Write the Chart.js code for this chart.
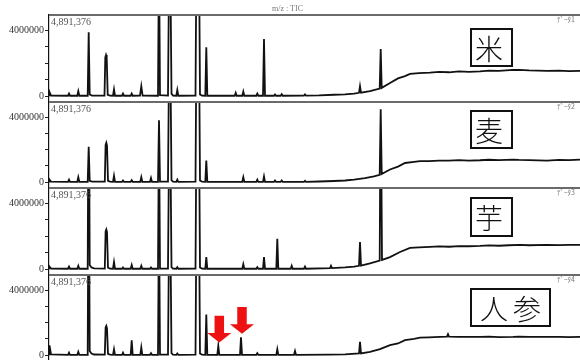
<!DOCTYPE html>
<html><head><meta charset="utf-8">
<script src="https://cdn.jsdelivr.net/npm/chart.js@4.4.0/dist/chart.umd.min.js"></script>
<style>
html,body{margin:0;padding:0;background:#fff;}
#wrap{position:relative;width:580px;height:360px;overflow:hidden;background:#fff;}
#wrap canvas{position:absolute;left:0;}
.txt{position:absolute;white-space:nowrap;line-height:1;}
.fs{font-family:"Liberation Serif","DejaVu Serif",serif;font-size:10px;color:#555;}
.dn{font-family:"Noto Sans CJK JP",sans-serif;font-size:7px;color:#777;}
.box{position:absolute;border:2px solid #111;background:#fff;font-family:"Noto Sans CJK JP",sans-serif;font-weight:300;font-size:28px;color:#111;display:flex;align-items:center;justify-content:center;box-sizing:border-box;letter-spacing:5px;}
</style></head><body><div id="wrap"></div>
<script>
// ---- data (time in minutes, intensity in millions of counts) ----
const panelNames = ['米', '麦', '芋', '人参'];
const dataNames = ['ﾃﾞｰﾀ1', 'ﾃﾞｰﾀ2', 'ﾃﾞｰﾀ3', 'ﾃﾞｰﾀ4'];
const topTitle = 'm/z : TIC';
const fullScaleLabel = '4,891,376';
const yTickValues = [0, 1, 2, 3, 4];
const yTickLabels = ['0', '', '', '', '4000000'];
const timeRange = [0, 53.1];

const riceTrace = [
 [0,0.05],[0.05,0.25],[0.2,0.03],[1.9,0.02],[2.0,0.15],[2.1,0.02],[2.83,0.02],[2.93,0.3],[3.03,0.02],
 [3.87,0.02],[3.97,3.88],[4.07,0.1],[4.3,0.03],[5.55,0.03],[5.63,2.35],[5.7,2.5],[5.77,2.35],[5.87,0.08],[6.1,0.03],
 [6.4,0.02],[6.5,0.41],[6.6,0.02],[7.3,0.02],[7.4,0.15],[7.5,0.02],[8.17,0.02],[8.27,0.15],[8.37,0.02],
 [9.1,0.03],[9.23,0.6],[9.36,0.03],[10.9,0.02],[11.0,9],[11.1,0.05],[11.9,0.03],[12.07,12],[12.25,0.15],[12.4,0.03],
 [12.73,0.02],[12.83,0.37],[12.93,0.02],[14.65,0.03],[14.87,20],[15.1,0.1],[15.3,0.03],[15.63,0.02],[15.73,2.98],[15.83,0.02],
 [18.57,0.02],[18.67,0.2],[18.77,0.02],[19.33,0.02],[19.43,0.27],[19.53,0.02],[20.73,0.02],[20.83,0.15],[20.93,0.02],
 [21.4,0.02],[21.5,3.47],[21.6,0.02],[22.5,0.02],[22.6,0.1],[22.7,0.02],[23.17,0.02],[23.27,0.12],[23.37,0.02],
 [25.5,0.03],[25.6,0.1],[25.7,0.03],[27,0.04],[28.5,0.08],[29.6,0.1],[30.5,0.15],[31.0,0.2],[31.1,0.6],[31.2,0.21],
 [32.1,0.3],[33.07,0.46],[33.17,2.86],[33.27,0.5],[34.1,0.8],[34.9,1.08],[35.6,1.22],[36.1,1.35],[37,1.4],[38.1,1.43],
 [39,1.47],[40,1.45],[41,1.5],[42,1.48],[43.1,1.51],[44,1.55],[45,1.53],[46.4,1.59],[47,1.6],[48,1.56],[49.8,1.53],
 [51,1.55],[52,1.52],[53.1,1.53]
];
const wheatTrace = [
 [0,0.04],[0.05,0.15],[0.2,0.03],[1.9,0.02],[2.0,0.15],[2.1,0.02],[2.83,0.02],[2.93,0.3],[3.03,0.02],
 [3.87,0.02],[3.97,2.18],[4.07,0.08],[4.3,0.03],[5.58,0.03],[5.66,2.3],[5.73,2.43],[5.8,2.25],[5.9,0.08],[6.1,0.03],
 [6.4,0.02],[6.5,0.39],[6.6,0.02],[7.3,0.02],[7.4,0.1],[7.5,0.02],[8.17,0.02],[8.27,0.12],[8.37,0.02],
 [9.13,0.02],[9.23,0.3],[9.33,0.02],[10.1,0.02],[10.2,0.25],[10.3,0.02],[10.9,0.02],[11.0,3.82],[11.1,0.03],
 [11.9,0.03],[12.07,12],[12.25,0.12],[12.4,0.03],[12.73,0.02],[12.83,0.15],[12.93,0.02],
 [14.65,0.03],[14.87,20],[15.1,0.1],[15.3,0.03],[15.63,0.02],[15.73,1.33],[15.83,0.02],
 [19.33,0.02],[19.43,0.3],[19.53,0.02],[20.73,0.02],[20.83,0.15],[20.93,0.02],[21.4,0.02],[21.5,0.35],[21.6,0.02],
 [22.5,0.02],[22.6,0.1],[22.7,0.02],[23.17,0.02],[23.27,0.1],[23.37,0.02],[25.5,0.02],[25.6,0.08],[25.7,0.02],
 [27,0.04],[28.5,0.07],[29.6,0.1],[30.5,0.15],[31.6,0.25],[32.5,0.35],[33.07,0.45],[33.17,4.49],[33.27,0.5],
 [34.1,0.78],[34.9,0.96],[35.6,1.18],[36.5,1.25],[37.1,1.29],[38,1.3],[39,1.33],[40,1.32],[41,1.36],[42,1.33],
 [43.1,1.35],[44,1.38],[45,1.36],[46.4,1.39],[47,1.37],[48,1.36],[49.8,1.33],[51,1.37],[52,1.36],[53.1,1.39]
];
const potatoTrace = [
 [0,0.04],[0.05,0.15],[0.2,0.03],[1.9,0.02],[2.0,0.15],[2.1,0.02],[2.83,0.02],[2.93,0.2],[3.03,0.02],
 [3.87,0.02],[3.97,14],[4.07,0.25],[4.25,0.1],[4.5,0.04],[5.58,0.03],[5.66,2.3],[5.73,2.41],[5.8,2.25],[5.9,0.08],[6.1,0.03],
 [6.4,0.02],[6.5,0.43],[6.6,0.02],[7.3,0.02],[7.4,0.1],[7.5,0.02],[8.17,0.02],[8.27,0.25],[8.37,0.02],
 [9.13,0.02],[9.23,0.2],[9.33,0.02],[10.1,0.02],[10.2,0.1],[10.3,0.02],[10.9,0.02],[11.0,9],[11.1,0.03],
 [11.9,0.03],[12.07,12],[12.25,0.12],[12.4,0.03],[12.73,0.02],[12.83,0.12],[12.93,0.02],
 [14.65,0.03],[14.87,20],[15.1,0.1],[15.3,0.03],[15.63,0.02],[15.73,0.73],[15.83,0.02],
 [19.33,0.02],[19.43,0.3],[19.53,0.02],[20.73,0.02],[20.83,0.12],[20.93,0.02],[21.4,0.02],[21.5,0.73],[21.6,0.02],
 [22.73,0.02],[22.83,1.84],[22.93,0.02],[24.17,0.02],[24.27,0.2],[24.37,0.02],[25.5,0.02],[25.6,0.15],[25.7,0.02],
 [28.1,0.06],[28.2,0.2],[28.3,0.06],[29.6,0.1],[30.5,0.15],[31.0,0.2],[31.1,1.65],[31.2,0.21],
 [32.1,0.35],[33.07,0.52],[33.17,12],[33.3,0.56],[34.1,0.73],[35.1,1.04],[36.1,1.29],[37,1.32],[38.1,1.35],
 [39,1.38],[40,1.36],[41,1.4],[42,1.39],[43.1,1.41],[44,1.44],[45,1.42],[46,1.45],[47.1,1.47],[48,1.45],
 [49.8,1.47],[51,1.46],[52,1.48],[53.1,1.47]
];
const carrotTrace = [
 [0,0.05],[0.05,0.6],[0.2,0.05],[1.9,0.02],[2.0,0.15],[2.1,0.02],[2.83,0.02],[2.93,0.2],[3.03,0.02],
 [3.87,0.02],[3.97,14],[4.07,0.25],[4.25,0.1],[4.5,0.04],[5.58,0.03],[5.66,1.7],[5.73,1.8],[5.8,1.65],[5.9,0.08],[6.1,0.03],
 [6.4,0.02],[6.5,0.37],[6.6,0.02],[7.3,0.02],[7.4,0.15],[7.5,0.02],[8.17,0.02],[8.27,0.92],[8.37,0.02],
 [9.13,0.02],[9.23,0.47],[9.33,0.02],[10.1,0.02],[10.2,0.12],[10.3,0.02],[10.9,0.02],[11.0,9],[11.1,0.03],
 [11.9,0.03],[12.07,12],[12.25,0.12],[12.4,0.03],[12.73,0.02],[12.83,0.1],[12.93,0.02],
 [14.65,0.03],[14.87,20],[15.1,0.1],[15.3,0.03],[15.63,0.02],[15.73,2.5],[15.83,0.02],
 [16.83,0.02],[16.93,0.57],[17.03,0.02],[19.1,0.02],[19.2,1.1],[19.3,0.02],[20.73,0.02],[20.83,0.12],[20.93,0.02],
 [22.73,0.02],[22.83,0.37],[22.93,0.02],[24.5,0.02],[24.6,0.25],[24.7,0.02],
 [28,0.03],[29.6,0.05],[31.0,0.1],[31.1,0.82],[31.2,0.1],[32.1,0.2],[33.1,0.37],[34.1,0.61],[34.9,0.72],
 [35.6,0.92],[36.5,1.0],[37.1,1.08],[38,1.1],[39.1,1.12],[39.8,1.14],[39.9,1.29],[40.0,1.14],[41,1.12],
 [42,1.13],[43.1,1.12],[44,1.14],[45,1.11],[46.4,1.12],[47,1.14],[48,1.12],[49.8,1.12],[51,1.13],[52,1.11],[53.1,1.12]
];
const traces = [riceTrace, wheatTrace, potatoTrace, carrotTrace];
const arrowPeakTimes = [16.93, 19.2]; // marked peaks in the carrot trace

// ---- layout ----
const panelTops = [14, 101, 187, 274];
const panelHeights = [87, 86, 87, 86];
const wrap = document.getElementById('wrap');

function addText(cls, text, css) {
  const d = document.createElement('div');
  d.className = cls; d.textContent = text;
  Object.assign(d.style, css);
  wrap.appendChild(d);
  return d;
}

const borderPlugin = {
  id: 'panelDeco',
  afterDatasetsDraw(chart, args, opts) {
    const ctx = chart.ctx, a = chart.chartArea;
    ctx.save();
    ctx.fillStyle = '#6a6a6a';
    ctx.fillRect(a.left, a.top, a.right - a.left, 2);
    if (opts.arrows) {
      const xs = chart.scales.x, ys = chart.scales.y;
      const pts = chart.data.datasets[0].data;
      ctx.fillStyle = '#ee1111';
      opts.arrows.forEach(t => {
        const p = pts.find(q => Math.abs(q.x - t) < 1e-6);
        const x = xs.getPixelForValue(t) + 1;
        const yt = ys.getPixelForValue(p.y) - 3.5;
        const hh = 9.5, hw = 12, sw = 4.75, L = 26.7;
        ctx.beginPath();
        ctx.moveTo(x, yt);
        ctx.lineTo(x - hw, yt - hh);
        ctx.lineTo(x - sw, yt - hh);
        ctx.lineTo(x - sw, yt - L);
        ctx.lineTo(x + sw, yt - L);
        ctx.lineTo(x + sw, yt - hh);
        ctx.lineTo(x + hw, yt - hh);
        ctx.closePath();
        ctx.fill();
      });
    }
    ctx.restore();
  }
};

traces.forEach((tr, i) => {
  const c = document.createElement('canvas');
  c.width = 580; c.height = panelHeights[i];
  c.style.top = panelTops[i] + 'px';
  c.style.width = '580px'; c.style.height = panelHeights[i] + 'px';
  wrap.appendChild(c);
  new Chart(c.getContext('2d'), {
    type: 'line',
    data: { datasets: [{
      data: tr.map(([t, v]) => ({ x: t, y: v })),
      borderColor: '#111', borderWidth: 1.8, pointRadius: 0, tension: 0, fill: false
    }]},
    options: {
      responsive: false, animation: false, events: [], devicePixelRatio: 1,
      layout: { padding: 0 },
      plugins: { legend: { display: false }, tooltip: { enabled: false },
                 panelDeco: { arrows: i === 3 ? arrowPeakTimes : null } },
      scales: {
        x: { type: 'linear', min: timeRange[0], max: timeRange[1], display: false },
        y: {
          min: -0.3, max: 5.0,
          afterBuildTicks(s) { s.ticks = yTickValues.map(v => ({ value: v })); },
          afterFit(s) { s.width = 49; s.paddingTop = 0; s.paddingBottom = 0; },
          ticks: {
            callback: (v) => { const k = yTickValues.indexOf(v); return k >= 0 ? yTickLabels[k] : ''; },
            font: { family: 'Liberation Serif', size: 10 }, color: '#333', padding: 1
          },
          grid: { drawOnChartArea: false, tickLength: 4, color: '#222' },
          border: { display: true, color: '#111', width: 1.2 }
        }
      }
    },
    plugins: [borderPlugin]
  });
  addText('txt fs', fullScaleLabel, { left: '51px', top: (panelTops[i] + 3) + 'px' });
  addText('txt dn', dataNames[i], { right: '5px', top: (panelTops[i] + 2) + 'px' });
});

addText('txt dn', topTitle, { left: '272px', top: '5px', fontFamily: 'Liberation Serif', fontSize: '8px' });

const boxSpecs = [
  { left: 470, top: 28, w: 43, h: 39 },
  { left: 470, top: 110, w: 43, h: 39 },
  { left: 470, top: 197, w: 43, h: 40 },
  { left: 470, top: 288, w: 81, h: 39 }
];
panelNames.forEach((n, i) => {
  const b = boxSpecs[i];
  const d = document.createElement('div');
  d.className = 'box'; d.textContent = n;
  Object.assign(d.style, { left: b.left + 'px', top: b.top + 'px', width: b.w + 'px', height: b.h + 'px',
    paddingLeft: n.length > 1 ? '5px' : '0px' });
  wrap.appendChild(d);
});
</script></body></html>
